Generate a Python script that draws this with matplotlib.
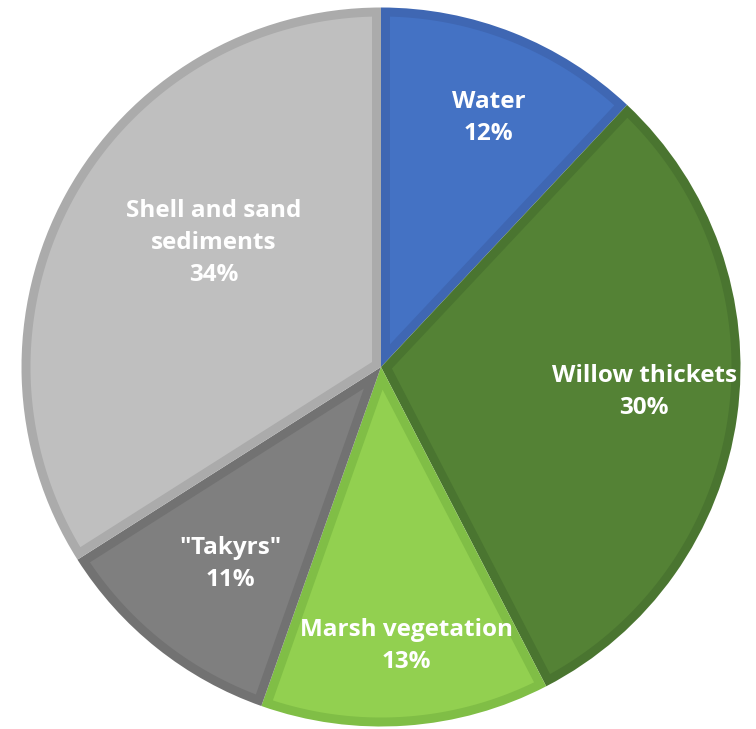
import numpy as np
import matplotlib.pyplot as plt
from matplotlib.patches import Polygon

categories = ["Water", "Willow thickets", "Marsh vegetation", '"Takyrs"', "Shell and sand\nsediments"]
shares = [12.0, 30.4, 13.0, 10.6, 34.0]

fills = ["#4472C4", "#548235", "#92D050", "#7F7F7F", "#BFBFBF"]
borders = ["#3F67B3", "#4A7530", "#80BE46", "#727272", "#ABABAB"]

# label placement: fraction of radius, angle nudge (deg)
label_r = [0.755, 0.735, 0.78, 0.69, 0.58]
label_da = [-1.8, 2.5, 1.3, 1.1, -7.8]

fig = plt.figure(figsize=(7.56, 7.29), dpi=100)
ax = fig.add_axes([0, 0, 1, 1])

R = 359.5
cx, cy = 381, 362
d = 9  # inner border width (px)

wedges, _ = ax.pie(shares, startangle=90, counterclock=False, colors=borders,
                   radius=R, center=(cx, cy),
                   wedgeprops=dict(edgecolor="none"))

# inset fill for each wedge -> darker border on the inside
for w, fc in zip(wedges, fills):
    t1, t2 = np.radians(w.theta1), np.radians(w.theta2)
    half = (t2 - t1) / 2
    ri = R - d
    da = np.arcsin(d / ri)
    arc = np.linspace(t1 + da, t2 - da, 200)
    pts = [(cx + ri * np.cos(a), cy + ri * np.sin(a)) for a in arc]
    apex_r = d / np.sin(half)
    bis = (t1 + t2) / 2
    pts.append((cx + apex_r * np.cos(bis), cy + apex_r * np.sin(bis)))
    ax.add_patch(Polygon(pts, closed=True, facecolor=fc, edgecolor="none"))

for w, cat, s, lr, dd in zip(wedges, categories, shares, label_r, label_da):
    mid = np.radians((w.theta1 + w.theta2) / 2 + dd)
    x = cx + R * lr * np.cos(mid)
    y = cy + R * lr * np.sin(mid)
    ax.text(x, y, "{}\n{:.0f}%".format(cat, s), ha="center", va="center",
            color="white", fontsize=17.5, fontweight="bold",
            family="Open Sans", linespacing=1.45)

ax.set_xlim(0, 756)
ax.set_ylim(0, 729)
ax.set_aspect("equal")
ax.axis("off")

fig.savefig("out.png", dpi=100)
